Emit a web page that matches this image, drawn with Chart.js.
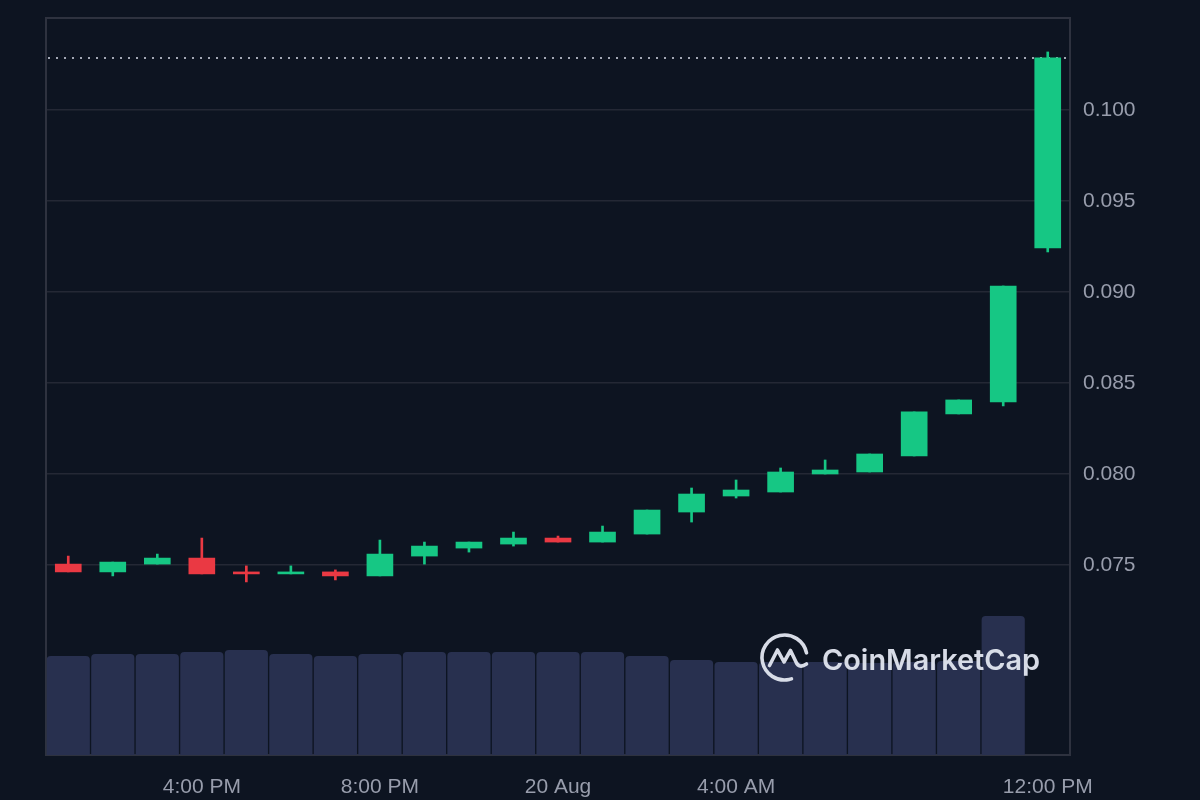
<!DOCTYPE html>
<html>
<head>
<meta charset="utf-8">
<style>
  html, body { margin: 0; padding: 0; background: #0d1421; }
  #wrap { width: 1200px; height: 800px; position: relative; }
</style>
<script src="https://cdn.jsdelivr.net/npm/chart.js@4.4.1/dist/chart.umd.min.js"></script>
</head>
<body>
<div id="wrap"><canvas id="c" width="1200" height="800"></canvas></div>
<script>
// ---- data (hourly candles, 19 Aug 1:00 PM -> 20 Aug 11:00 AM) ----
const hours = ["1:00 PM","2:00 PM","3:00 PM","4:00 PM","5:00 PM","6:00 PM","7:00 PM","8:00 PM",
  "9:00 PM","10:00 PM","11:00 PM","12:00 AM","1:00 AM","2:00 AM","3:00 AM","4:00 AM","5:00 AM",
  "6:00 AM","7:00 AM","8:00 AM","9:00 AM","10:00 AM","11:00 AM"];
const opens  = [0.07505,0.07462,0.07505,0.07538,0.07462,0.07451,0.07462,0.07440,0.07549,0.07593,0.07615,0.07648,
  0.07626,0.07670,0.07791,0.07879,0.07901,0.08000,0.08011,0.08099,0.08330,0.08396,0.09242];
const highs  = [0.07549,0.07516,0.07560,0.07648,0.07495,0.07495,0.07473,0.07637,0.07626,0.07626,0.07681,0.07659,
  0.07714,0.07802,0.07923,0.07967,0.08033,0.08077,0.08110,0.08341,0.08407,0.09033,0.10319];
const lows   = [0.07462,0.07440,0.07505,0.07451,0.07407,0.07451,0.07418,0.07440,0.07505,0.07571,0.07604,0.07626,
  0.07626,0.07670,0.07736,0.07868,0.07901,0.08000,0.08011,0.08099,0.08330,0.08374,0.09220];
const closes = [0.07462,0.07516,0.07538,0.07451,0.07451,0.07462,0.07440,0.07560,0.07604,0.07626,0.07648,0.07626,
  0.07681,0.07802,0.07890,0.07912,0.08011,0.08022,0.08110,0.08341,0.08407,0.09033,0.10286];
// volume (millions, relative); last candle has no volume bar yet
const volumes = [1.98,2.02,2.02,2.06,2.10,2.02,1.98,2.02,2.06,2.06,2.06,2.06,2.06,1.98,1.90,1.86,1.86,1.86,1.84,1.86,1.88,2.78];
const priceTicks = [0.075,0.080,0.085,0.090,0.095,0.100];
const timeTickIndex = [3,7,11,15,22];
const timeTickText = ["4:00 PM","8:00 PM","20 Aug","4:00 AM","12:00 PM"];

// ---- styles ----
const UP = '#16c784', DOWN = '#ea3943';
const TEXT = '#989dac';
const GRID = '#242835';
const BORDER = '#2e323f';
const VOL = '#28304f';
const FONT = "'Liberation Sans', Arial, sans-serif";

const candleColors = opens.map((o,i) => closes[i] >= o ? UP : DOWN);
const bodies = opens.map((o,i) => [o, closes[i]]);
const wicks = lows.map((l,i) => [l, highs[i]]);

const overlay = {
  id: 'overlay',
  beforeDatasetsDraw(chart) {
    const {ctx, chartArea: a, scales} = chart;
    ctx.save();
    // frame
    ctx.strokeStyle = BORDER;
    ctx.lineWidth = 2;
    ctx.strokeRect(a.left, a.top, a.right - a.left, a.bottom - a.top);
    // last price dotted line
    const y = Math.round(scales.y.getPixelForValue(closes[closes.length - 1]));
    ctx.strokeStyle = '#a3a8b5';
    ctx.lineWidth = 2;
    ctx.setLineDash([2, 6]);
    ctx.beginPath();
    ctx.moveTo(a.left + 2, y);
    ctx.lineTo(a.right - 4, y);
    ctx.stroke();
    ctx.restore();
  },
  afterDatasetsDraw(chart) {
    const {ctx} = chart;
    ctx.save();
    const col = 'rgba(224,228,238,0.96)';
    // logo mark
    const cx = 784.5, cy = 657.5, r = 22.5;
    ctx.strokeStyle = col;
    ctx.lineWidth = 3.6;
    ctx.lineCap = 'round';
    ctx.lineJoin = 'round';
    ctx.beginPath();
    ctx.arc(cx, cy, r, -12 * Math.PI / 180, 72 * Math.PI / 180, true);
    ctx.stroke();
    ctx.beginPath();
    ctx.moveTo(769.5, 665.5);
    ctx.lineTo(777.5, 650);
    ctx.lineTo(784, 662);
    ctx.lineTo(790.5, 650.5);
    ctx.lineTo(796, 662);
    ctx.quadraticCurveTo(799, 669, 806.5, 664);
    ctx.stroke();
    // wordmark
    ctx.fillStyle = col;
    ctx.font = "600 30px Inter, 'Noto Sans', sans-serif";
    const w = ctx.measureText('CoinMarketCap').width;
    const size = 30 * 218 / w;
    ctx.font = "600 " + size.toFixed(2) + "px Inter, 'Noto Sans', sans-serif";
    ctx.textBaseline = 'alphabetic';
    ctx.textAlign = 'left';
    ctx.fillText('CoinMarketCap', 822, 670);
    ctx.restore();
  }
};

new Chart(document.getElementById('c'), {
  type: 'bar',
  data: {
    labels: hours,
    datasets: [
      {
        label: 'Body', data: bodies, yAxisID: 'y', grouped: false, order: 1,
        backgroundColor: candleColors, borderWidth: 0, barThickness: 26, minBarLength: 2
      },
      {
        label: 'Wick', data: wicks, yAxisID: 'y', grouped: false, order: 2,
        backgroundColor: candleColors, borderWidth: 0, barThickness: 2, minBarLength: 1
      },
      {
        label: 'Volume', data: volumes, yAxisID: 'yv', grouped: false, order: 3,
        backgroundColor: VOL, borderWidth: 0, barPercentage: 0.97, categoryPercentage: 1.0,
        borderRadius: {topLeft: 4, topRight: 4, bottomLeft: 0, bottomRight: 0}, borderSkipped: 'bottom'
      }
    ]
  },
  options: {
    responsive: false,
    animation: false,
    events: [],
    layout: { padding: { left: 46, top: 18, right: 0, bottom: 0 } },
    plugins: { legend: { display: false }, tooltip: { enabled: false } },
    scales: {
      x: {
        offset: true,
        grid: { display: false, drawTicks: false },
        border: { display: false },
        afterFit: s => { s.height = 45; s.paddingLeft = 0; s.paddingRight = 0; },
        ticks: {
          autoSkip: false, maxRotation: 0, minRotation: 0, padding: 20,
          color: TEXT, font: { family: FONT, size: 21 },
          callback: (v, i) => { const k = timeTickIndex.indexOf(i); return k >= 0 ? timeTickText[k] : ''; }
        }
      },
      y: {
        position: 'right',
        min: 0.06456, max: 0.105055,
        afterBuildTicks: s => { s.ticks = priceTicks.map(v => ({ value: v })); },
        afterFit: s => { s.width = 130; s.paddingTop = 0; s.paddingBottom = 0; },
        grid: { color: GRID, lineWidth: 1.5, drawTicks: false },
        border: { display: false },
        ticks: { color: TEXT, font: { family: FONT, size: 21 }, padding: 13, callback: v => Number(v).toFixed(3) }
      },
      yv: { display: false, min: 0, max: 14.74 }
    }
  },
  plugins: [overlay]
});
</script>
</body>
</html>
